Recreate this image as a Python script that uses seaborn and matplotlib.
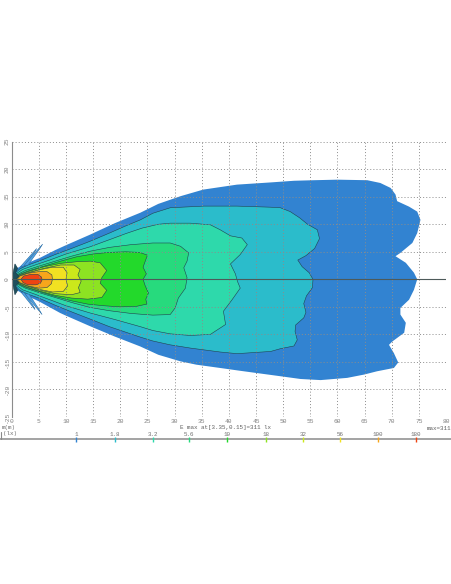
import matplotlib
matplotlib.use("Agg")
import matplotlib.pyplot as plt
import matplotlib.transforms as mtransforms
import seaborn as sns

# isolux levels (lx), max illuminance and where it sits
levels = [1, 1.8, 3.2, 5.6, 10, 18, 32, 56, 100, 180]
level_colors = ["#3283d1", "#2bbccb", "#2ed9ab", "#27da7d", "#23d92b",
                "#8de322", "#cbe81b", "#f1e122", "#f7a61b", "#ef4412"]
e_max = 311
e_max_pos = (3.35, 0.15)

# contour outlines (x in m, y in m)
c1_x = [0.0, 0.3, 1.0, 2.0, 3.5, 5.2, 8.0, 10.0, 14.4, 19.0, 23.7, 27.0, 31.1, 35.3, 41.5, 47.7, 52.0, 55.6, 60.0, 65.5,
        67.9, 69.8, 70.7, 71.0, 73.2, 74.7, 75.3, 74.7, 73.8, 71.6, 70.7, 72.6, 74.1, 74.7, 74.1, 73.2, 71.6, 71.6, 72.6, 72.3,
        70.1, 69.5, 70.4, 71.2, 70.4, 67.3, 64.9, 61.8, 56.9, 53.2, 49.5, 42.0, 38.4, 34.0, 31.1, 27.0, 23.7, 19.0, 14.4, 10.0,
        8.9, 5.2, 3.5, 2.0, 1.0, 0.3]
c1_y = [0.0, 1.2, 2.0, 2.6, 3.2, 3.9, 5.3, 6.2, 8.1, 10.2, 12.1, 13.7, 15.1, 16.3, 17.2, 17.6, 17.9, 18.0, 18.1, 18.0,
        17.5, 16.6, 15.4, 14.2, 13.2, 12.3, 10.8, 8.4, 6.6, 4.8, 4.2, 3.0, 1.2, 0.0, -1.9, -3.7, -5.2, -6.4, -7.9, -9.7,
        -11.3, -11.9, -13.4, -15.1, -16.1, -16.7, -17.3, -17.9, -18.3, -18.1, -17.6, -16.6, -16.1, -15.5, -14.9, -13.7, -12.2, -10.4, -8.5, -6.6,
        -6.1, -4.1, -3.3, -2.6, -2.0, -1.2]

c2_x = [0.2, 0.5, 1.5, 3.0, 5.0, 8.0, 11.0, 14.4, 18.0, 21.0, 23.7, 26.0, 29.2, 35.4, 41.5, 47.7, 49.5, 51.3, 53.0, 54.5,
        56.3, 56.7, 55.8, 54.2, 52.7, 53.5, 54.8, 55.5, 55.4, 54.3, 53.8, 54.2, 53.8, 52.3, 52.2, 52.6, 52.0, 49.5, 47.7, 41.5,
        38.4, 33.0, 29.2, 26.0, 23.7, 18.0, 14.4, 11.0, 8.0, 5.0, 3.0, 1.5, 0.5]
c2_y = [0.0, 1.0, 1.9, 2.6, 3.3, 4.5, 5.6, 6.9, 8.4, 9.7, 10.8, 12.0, 13.0, 13.3, 13.3, 13.1, 13.0, 12.3, 11.2, 10.0,
        9.0, 7.4, 5.6, 4.3, 3.5, 2.3, 1.2, 0.0, -1.5, -3.0, -4.4, -6.0, -7.0, -8.3, -9.5, -11.0, -12.1, -12.6, -13.1, -13.5,
        -13.2, -12.5, -11.9, -11.2, -10.5, -8.6, -7.2, -5.9, -4.7, -3.4, -2.7, -2.0, -1.0]

c3_x = [0.3, 0.7, 2.0, 4.0, 7.0, 10.0, 14.4, 18.0, 21.0, 24.0, 27.0, 29.2, 32.9, 36.6, 38.4, 40.3, 42.4, 43.4, 42.1, 40.3,
        41.2, 41.6, 42.1, 40.6, 39.0, 39.4, 36.6, 32.9, 29.2, 26.0, 23.7, 19.0, 14.4, 10.0, 7.0, 4.0, 2.0, 0.7]
c3_y = [0.0, 0.9, 1.8, 2.5, 3.5, 4.6, 5.9, 7.2, 8.3, 9.3, 10.0, 10.2, 10.2, 9.9, 9.0, 7.9, 7.5, 6.3, 4.5, 2.8,
        1.0, -0.4, -1.6, -3.7, -5.8, -8.2, -10.0, -10.2, -9.9, -9.3, -8.6, -7.3, -6.1, -4.8, -3.7, -2.6, -1.9, -0.9]

c4_x = [0.4, 0.9, 2.5, 5.0, 8.0, 11.0, 14.4, 18.0, 22.0, 26.0, 29.2, 31.1, 32.6, 32.3, 31.7, 32.3, 32.0, 30.7, 30.1, 29.2,
        26.0, 22.0, 18.0, 14.4, 11.0, 8.0, 5.0, 2.5, 0.9]
c4_y = [0.0, 0.8, 1.6, 2.4, 3.3, 4.2, 5.1, 5.8, 6.3, 6.6, 6.6, 6.0, 4.8, 3.3, 2.1, 0.3, -1.6, -3.4, -5.2, -6.4,
        -6.5, -6.2, -5.7, -5.1, -4.2, -3.3, -2.4, -1.6, -0.8]

c5_x = [0.5, 1.0, 3.0, 6.0, 9.0, 12.0, 15.0, 18.0, 21.0, 23.5, 25.0, 24.6, 24.2, 24.8, 24.2, 24.6, 25.2, 24.7, 24.9, 23.0,
        20.0, 17.0, 14.0, 11.0, 8.0, 5.0, 2.5, 1.0]
c5_y = [0.0, 0.7, 1.5, 2.4, 3.3, 4.1, 4.6, 4.9, 5.0, 4.9, 4.4, 3.3, 2.2, 1.0, 0.0, -1.2, -2.5, -3.6, -4.5, -4.9,
        -5.0, -4.8, -4.5, -3.9, -3.1, -2.2, -1.4, -0.7]

c6_x = [0.6, 1.2, 3.0, 6.0, 9.0, 12.0, 14.5, 16.3, 17.5, 16.6, 16.3, 17.5, 16.6, 14.0, 11.0, 8.0, 5.0, 2.5, 1.2]
c6_y = [0.0, 0.7, 1.4, 2.3, 2.9, 3.2, 3.3, 3.0, 1.6, 0.3, -0.7, -2.0, -3.3, -3.6, -3.4, -2.9, -2.1, -1.3, -0.7]

c7_x = [0.7, 1.3, 3.0, 6.0, 9.0, 11.5, 12.6, 12.2, 12.8, 12.3, 12.6, 11.0, 8.0, 5.0, 2.5, 1.3]
c7_y = [0.0, 0.6, 1.2, 2.0, 2.6, 2.6, 1.8, 0.8, -0.3, -1.5, -2.4, -2.8, -2.6, -1.9, -1.1, -0.6]

c8_x = [0.8, 1.4, 3.0, 5.0, 7.5, 9.5, 10.2, 10.0, 10.3, 9.5, 7.5, 5.0, 3.0, 1.4]
c8_y = [0.0, 0.6, 1.1, 1.7, 2.2, 2.2, 1.2, 0.0, -1.2, -2.2, -2.3, -1.8, -1.2, -0.6]

c9_x = [1.0, 1.5, 3.0, 5.0, 6.5, 7.4, 7.5, 7.3, 6.5, 5.0, 3.0, 1.5]
c9_y = [0.0, 0.6, 1.1, 1.4, 1.4, 0.8, 0.0, -0.8, -1.5, -1.6, -1.2, -0.6]

c10_x = [1.7, 2.2, 3.5, 4.8, 5.5, 5.6, 5.3, 4.5, 3.0, 2.1]
c10_y = [0.0, 0.6, 0.9, 0.9, 0.4, -0.1, -0.7, -1.0, -1.0, -0.6]

# stray rays near the lamp
ray1_x = [2.2, 5.7, 5.2, 3.0]
ray1_y = [2.5, 6.4, 5.6, 2.6]
ray2_x = [1.6, 4.6, 4.2, 2.2]
ray2_y = [2.3, 5.6, 4.9, 2.4]
ray3_x = [2.4, 5.6, 5.0, 3.2]
ray3_y = [-2.6, -6.4, -5.4, -2.7]
ray4_x = [1.7, 4.3, 3.9, 2.3]
ray4_y = [-2.3, -5.5, -4.7, -2.4]

# dark smear where all lines meet at the source
near_x = [0.0, 0.6, 1.1, 0.7, 1.3, 0.8, 1.3, 0.7, 1.1, 0.6]
near_y = [0.0, 2.8, 2.0, 1.2, 0.6, 0.0, -0.6, -1.2, -2.0, -2.8]

contours = [(c1_x, c1_y), (c2_x, c2_y), (c3_x, c3_y), (c4_x, c4_y), (c5_x, c5_y),
            (c6_x, c6_y), (c7_x, c7_y), (c8_x, c8_y), (c9_x, c9_y), (c10_x, c10_y)]

sns.set_style("white")
plt.rcParams["font.family"] = ["Liberation Mono", "DejaVu Sans"]

fig = plt.figure(figsize=(4.52, 5.84), dpi=100)
ax = fig.add_axes([0.0259, 0.2860, 0.9608, 0.4714])

edge = "#21414f"
for i, (xs, ys) in enumerate(contours):
    ax.fill(xs, ys, facecolor=level_colors[i], edgecolor="none", zorder=1 + i * 0.01)
    if i > 0:
        # closed outline of the isolux line
        sns.lineplot(x=xs + xs[:1], y=ys + ys[:1], sort=False, estimator=None,
                     color=edge, linewidth=0.4, ax=ax, zorder=1.005 + i * 0.01)

for rx, ry in [(ray1_x, ray1_y), (ray2_x, ray2_y), (ray3_x, ray3_y), (ray4_x, ray4_y)]:
    ax.fill(rx, ry, facecolor="#4fa3e3", edgecolor="#2a6fa8", linewidth=0.4, zorder=1.2)
ax.fill(near_x, near_y, facecolor="#1f4f5c", edgecolor="#183a48", linewidth=0.4, zorder=1.2)

ax.axhline(0, color="#4d5a5a", linewidth=0.8, zorder=3)

ax.set_xlim(0, 80)
ax.set_ylim(-25, 25)
ax.set_xticks(range(0, 81, 5))
ax.set_yticks(range(-25, 26, 5))
ax.set_yticklabels([str(v) for v in range(-25, 26, 5)])
ax.set_axisbelow(False)
ax.grid(True, color="#8c8c8c", linestyle=(0, (1, 2.2)), linewidth=0.7, zorder=2.5)
ax.tick_params(axis="both", length=0, labelsize=4.5, colors="#808080", pad=1.5)
ax.tick_params(axis="y", labelrotation=90)
for t in ax.get_yticklabels():
    t.set_va("center")
for s in ["top", "right", "bottom"]:
    ax.spines[s].set_visible(False)
ax.spines["left"].set_color("#8c8c8c")
ax.spines["left"].set_linewidth(0.8)

# texts under the plot
fig.text(0.003, 1 - 427 / 584, "m(m)", fontsize=4.2, color="#707070", va="center", ha="left")
fig.text(0.5, 1 - 428 / 584, f"E max at[{e_max_pos[0]},{e_max_pos[1]}]={e_max} lx",
         fontsize=4.2, color="#606060", va="center", ha="center")
fig.text(0.998, 1 - 428 / 584, f"max={e_max}", fontsize=4.2, color="#606060", va="center", ha="right")
fig.text(0.006, 1 - 434 / 584, "(lx)", fontsize=4.2, color="#707070", va="center", ha="left")

# log illuminance scale, Emax/1000 .. Emax
cax = fig.add_axes([0, 1 - 444 / 584, 1, 14 / 584])
cax.set_xscale("log")
cax.set_xlim(e_max / 1000, e_max)
cax.set_ylim(14, 0)
cax.axis("off")
cax.axhline(9, color="#8a8a8a", linewidth=1.1)
cax.vlines(levels, 7, 12, colors=level_colors, linewidth=1.0)
for lv in levels:
    cax.text(lv, 4.2, f"{lv:g}", fontsize=4.2, color="#707070", ha="center", va="center")
trans = mtransforms.blended_transform_factory(cax.transAxes, cax.transData)
cax.plot([0.002, 0.002], [2, 9], color="#8a8a8a", linewidth=0.8, transform=trans)

fig.savefig("out.png", dpi=100)
